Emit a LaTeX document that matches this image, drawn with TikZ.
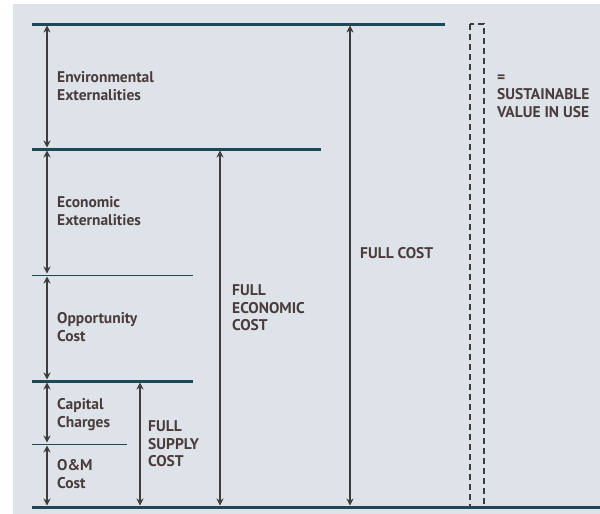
\documentclass[tikz,border=0pt]{standalone}
\usepackage{fontspec}
\setmainfont{PT Sans}
\usetikzlibrary{arrows.meta}
\definecolor{bgc}{HTML}{DDE3E8}
\definecolor{barc}{HTML}{1F4757}
\definecolor{arrc}{HTML}{3F3A3B}
\definecolor{txtc}{HTML}{4A3C3C}
\tikzset{
  level/.style={draw=barc, line width=3pt},
  thinlevel/.style={draw=barc, line width=1pt},
  dim/.style={draw=arrc, line width=1.2pt, shorten >=1.5pt, shorten <=1.5pt, {Stealth[length=7pt,width=7pt]}-{Stealth[length=7pt,width=7pt]}},
  lbl/.style={anchor=north west, inner sep=0pt, text=txtc, font=\fontsize{15.5}{17.5}\selectfont\bfseries, align=left},
}
\begin{document}
\begin{tikzpicture}[x=1pt,y=-1pt]
\useasboundingbox (0,0) rectangle (600,514);
\fill[white] (0,0) rectangle (600,514);
\fill[bgc] (13,4) rectangle (600,514);
% level lines
\coordinate (t0) at (47,24);
\coordinate (t1) at (47,149);
\coordinate (t2) at (47,275);
\coordinate (t3) at (47,381);
\coordinate (t4) at (47,444);
\coordinate (t5) at (47,507);
\coordinate (s1) at (140,381);
\coordinate (s2) at (140,507);
\coordinate (e1) at (220,149);
\coordinate (e2) at (220,507);
\coordinate (f1) at (350,24);
\coordinate (f2) at (350,507);
\draw[level] (32,24) -- (445,24);
\draw[level] (32,149) -- (321,149);
\draw[thinlevel] (32,275) -- (193,275);
\draw[level] (32,381) -- (193,381);
\draw[thinlevel] (32,444) -- (127,444);
% dashed box
\draw[draw=arrc, line width=2.6pt, dash pattern=on 6pt off 4pt] (470,24) rectangle (484,507);
\draw[level] (32,507) -- (600,507);
% dimension arrows
\draw[dim] (t0) -- (t1);
\draw[dim] (t1) -- (t2);
\draw[dim] (t2) -- (t3);
\draw[dim] (t3) -- (t4);
\draw[dim] (t4) -- (t5);
\draw[dim] (s1) -- (s2);
\draw[dim] (e1) -- (e2);
\draw[dim] (f1) -- (f2);
% labels
\node[lbl] (env) at (57,71.5) {Environmental\\Externalities};
\node[lbl] (eco) at (57,196.5) {Economic\\Externalities};
\node[lbl] (opp) at (57,312.5) {Opportunity\\Cost};
\node[lbl] (cap) at (57,398.5) {Capital\\Charges};
\node[lbl] (om) at (57,459.5) {O\&M\\Cost};
\node[lbl] (fsc) at (148,420.5) {FULL\\SUPPLY\\COST};
\node[lbl] (fec) at (232,284.5) {FULL\\ECONOMIC\\COST};
\node[lbl] (fc) at (360,247.5) {FULL COST};
\node[lbl] (svu) at (497,74.5) {=\\SUSTAINABLE\\VALUE IN USE};
\end{tikzpicture}
\end{document}
